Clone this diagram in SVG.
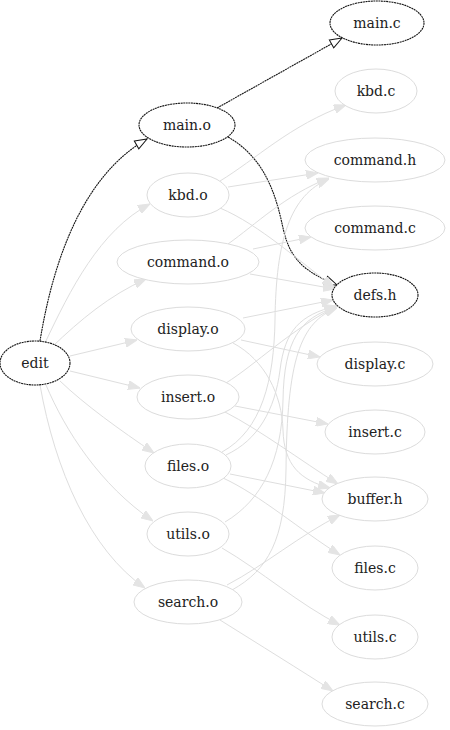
<svg xmlns="http://www.w3.org/2000/svg" width="450" height="730" viewBox="0 0 450 730">
<style>
.n ellipse{fill:#fff;stroke:#dcdcdc;stroke-width:1}
.h ellipse{fill:#fff;stroke:#151515;stroke-width:1.1;stroke-dasharray:2 0.6}
text{font-family:"DejaVu Serif","Liberation Serif",serif;font-size:14px;fill:#222;text-anchor:middle}
.e path{fill:none;stroke:#dedede;stroke-width:1}
.e path.g{marker-end:url(#ag)}
.e path.b{stroke:#151515;stroke-width:1.1;stroke-dasharray:2 0.6;marker-end:url(#ab)}
</style>
<defs>
<marker id="ag" viewBox="0 0 12 9" refX="12" refY="4.5" markerWidth="12" markerHeight="9" markerUnits="userSpaceOnUse" orient="auto"><path d="M0,0 L12,4.5 L0,9 z" fill="#e4e4e4" stroke="#e4e4e4"/></marker>
<marker id="ab" viewBox="-1 -1 14 11" refX="12" refY="4.5" markerWidth="14" markerHeight="11" markerUnits="userSpaceOnUse" orient="auto"><path d="M0,0 L12,4.5 L0,9 z" fill="#fff" stroke="#151515" stroke-width="1"/></marker>
</defs>
<rect width="450" height="730" fill="#fff"/>
<g class="e" id="edges">
<path class="b" d="M40,341 C50,280 75,180 147,139"/>
<path class="b" d="M217,108 L342,38"/>
<path class="b" d="M228,137 C265,158 276,195 283,228 C290,260 305,272 337,285"/>
<path class="g" d="M45,343 C70,290 100,230 150,204"/>
<path class="g" d="M52,347 C80,320 110,295 146,279"/>
<path class="g" d="M70,356 L137,340"/>
<path class="g" d="M70,371 L140,388"/>
<path class="g" d="M60,381 C85,405 120,430 154,453"/>
<path class="g" d="M46,385 C65,430 100,485 153,521"/>
<path class="g" d="M40,385 C55,470 90,550 145,588"/>
<path class="g" d="M220,181 C255,160 290,125 346,105"/>
<path class="g" d="M228,187 L318,173"/>
<path class="g" d="M220,208 C260,225 300,262 334,287"/>
<path class="g" d="M228,244 C255,225 285,195 329,178"/>
<path class="g" d="M253,249 L311,237"/>
<path class="g" d="M250,274 L335,289"/>
<path class="g" d="M243,318 L333,300"/>
<path class="g" d="M241,340 L320,357"/>
<path class="g" d="M233,343 C265,360 282,395 283,430 C284,465 300,480 330,488"/>
<path class="g" d="M226,383 C255,365 290,330 337,306"/>
<path class="g" d="M235,406 L328,424"/>
<path class="g" d="M225,412 C260,430 300,460 338,484"/>
<path class="g" d="M222,452 C262,430 274,380 275,320 C276,240 290,195 329,179"/>
<path class="g" d="M226,455 C258,440 275,410 280,370 C285,330 300,315 336,306"/>
<path class="g" d="M230,474 L325,493"/>
<path class="g" d="M223,478 C260,495 300,530 340,555"/>
<path class="g" d="M225,522 C262,500 282,460 283,400 C284,340 300,318 336,307"/>
<path class="g" d="M222,548 C260,570 300,605 340,625"/>
<path class="g" d="M232,590 C268,570 285,540 286,470 C287,360 300,322 337,308"/>
<path class="g" d="M227,585 C265,565 300,535 340,515"/>
<path class="g" d="M220,620 C260,645 300,670 333,691"/>
</g>
<g id="edit" class="h"><ellipse cx="35" cy="363" rx="35" ry="22"/><text x="35" y="368">edit</text></g>
<g id="main_o" class="h"><ellipse cx="187" cy="125" rx="48" ry="22"/><text x="187" y="130">main.o</text></g>
<g id="kbd_o" class="n"><ellipse cx="188" cy="195" rx="41" ry="22"/><text x="188" y="200">kbd.o</text></g>
<g id="command_o" class="n"><ellipse cx="188" cy="262" rx="71" ry="22"/><text x="188" y="267">command.o</text></g>
<g id="display_o" class="n"><ellipse cx="188" cy="329" rx="57" ry="22"/><text x="188" y="334">display.o</text></g>
<g id="insert_o" class="n"><ellipse cx="188" cy="397" rx="51" ry="22"/><text x="188" y="402">insert.o</text></g>
<g id="files_o" class="n"><ellipse cx="188" cy="466" rx="43" ry="22"/><text x="188" y="471">files.o</text></g>
<g id="utils_o" class="n"><ellipse cx="188" cy="534" rx="41" ry="22"/><text x="188" y="539">utils.o</text></g>
<g id="search_o" class="n"><ellipse cx="188" cy="602" rx="54" ry="22"/><text x="188" y="607">search.o</text></g>
<g id="main_c" class="h"><ellipse cx="377" cy="23" rx="47" ry="22"/><text x="377" y="28">main.c</text></g>
<g id="kbd_c" class="n"><ellipse cx="376" cy="91" rx="41" ry="22"/><text x="376" y="96">kbd.c</text></g>
<g id="command_h" class="n"><ellipse cx="375" cy="160" rx="70" ry="22"/><text x="375" y="165">command.h</text></g>
<g id="command_c" class="n"><ellipse cx="375" cy="228" rx="70" ry="22"/><text x="375" y="233">command.c</text></g>
<g id="defs_h" class="h"><ellipse cx="375" cy="295" rx="43" ry="22"/><text x="375" y="300">defs.h</text></g>
<g id="display_c" class="n"><ellipse cx="375" cy="364" rx="58" ry="22"/><text x="375" y="369">display.c</text></g>
<g id="insert_c" class="n"><ellipse cx="375" cy="432" rx="50" ry="22"/><text x="375" y="437">insert.c</text></g>
<g id="buffer_h" class="n"><ellipse cx="375" cy="499" rx="53" ry="22"/><text x="375" y="504">buffer.h</text></g>
<g id="files_c" class="n"><ellipse cx="375" cy="568" rx="43" ry="22"/><text x="375" y="573">files.c</text></g>
<g id="utils_c" class="n"><ellipse cx="375" cy="637" rx="43" ry="22"/><text x="375" y="642">utils.c</text></g>
<g id="search_c" class="n"><ellipse cx="375" cy="704" rx="53" ry="22"/><text x="375" y="709">search.c</text></g>
</svg>
